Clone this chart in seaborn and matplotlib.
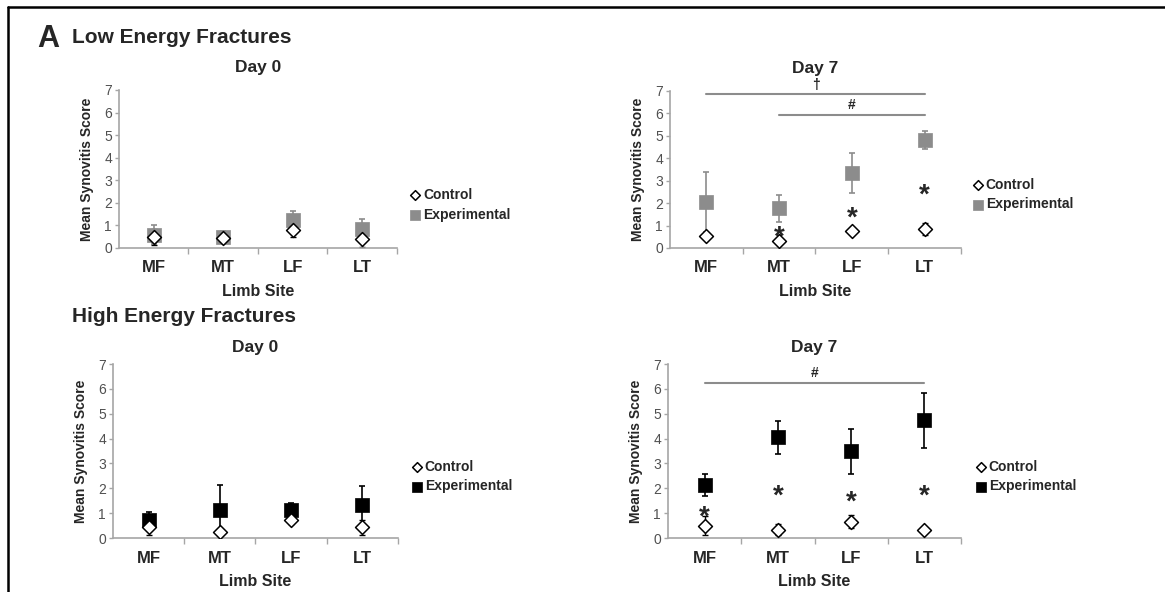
"""Synovitis score by limb site: low vs high energy fractures, day 0 and day 7."""

import matplotlib
matplotlib.use("Agg")
import matplotlib.pyplot as plt
import numpy as np
import pandas as pd
import seaborn as sns

SITES = ["MF", "MT", "LF", "LT"]

# Low energy, day 0
low_d0_ctrl = [0.50, 0.45, 0.81, 0.41]
low_d0_ctrl_err = [0.35, 0.20, 0.34, 0.35]
low_d0_exp = [0.59, 0.49, 1.22, 0.84]
low_d0_exp_err = [0.43, 0.28, 0.42, 0.45]

# Low energy, day 7
low_d7_ctrl = [0.52, 0.30, 0.77, 0.84]
low_d7_ctrl_err = [0.08, 0.08, 0.10, 0.27]
low_d7_exp = [2.04, 1.78, 3.33, 4.81]
low_d7_exp_err = [1.33, 0.60, 0.90, 0.40]

# High energy, day 0
high_d0_ctrl = [0.44, 0.23, 0.71, 0.44]
high_d0_ctrl_err = [0.32, 0.15, 0.15, 0.30]
high_d0_exp = [0.71, 1.14, 1.14, 1.33]
high_d0_exp_err = [0.35, 1.00, 0.27, 0.77]

# High energy, day 7
high_d7_ctrl = [0.50, 0.34, 0.66, 0.34]
high_d7_ctrl_err = [0.37, 0.22, 0.26, 0.10]
high_d7_exp = [2.13, 4.05, 3.49, 4.73]
high_d7_exp_err = [0.43, 0.66, 0.90, 1.12]

# significance marks
low_d7_star_sites = ["MT", "LF", "LT"]
low_d7_star_y = [0.81, 1.70, 2.69]
high_d7_star_sites = ["MF", "MT", "LF", "LT"]
high_d7_star_y = [1.17, 2.01, 1.74, 2.01]
# (symbol, from site, to site, line y)
low_d7_brackets = [("\u2020", "MF", "LT", 6.85), ("#", "MT", "LT", 5.92)]
high_d7_brackets = [("#", "MF", "LT", 6.23)]

GRAY = "#8c8c8c"
SPINE = "#a6a6a6"

sns.set_style("white")
plt.rcParams["font.family"] = ["Liberation Sans", "DejaVu Sans"]


def make_frame(ctrl, ctrl_err, exp, exp_err):
    rows = []
    for s, m, e in zip(SITES, ctrl, ctrl_err):
        rows.append({"site": s, "group": "Control", "mean": m, "err": e})
    for s, m, e in zip(SITES, exp, exp_err):
        rows.append({"site": s, "group": "Experimental", "mean": m, "err": e})
    return pd.DataFrame(rows)


def draw_panel(ax, df, exp_color, title, title_pad, legend_xy,
               stars=None, brackets=None):
    pos = {s: i for i, s in enumerate(SITES)}
    exp = df[df["group"] == "Experimental"]
    ctrl = df[df["group"] == "Control"]
    xe = [pos[s] for s in exp["site"]]
    xc = [pos[s] for s in ctrl["site"]]

    ax.errorbar(xe, exp["mean"], yerr=exp["err"], fmt="none",
                ecolor=exp_color, elinewidth=1.2, capsize=2.5, capthick=1.2,
                zorder=2)
    ax.errorbar(xc, ctrl["mean"], yerr=ctrl["err"], fmt="none",
                ecolor="black", elinewidth=1.0, capsize=2.5, capthick=1.0,
                zorder=2)
    sns.scatterplot(x=xe, y=exp["mean"].values, ax=ax, marker="s", s=100,
                    color=exp_color, edgecolor=exp_color, linewidth=0.5,
                    label="Experimental", zorder=3)
    sns.scatterplot(x=xc, y=ctrl["mean"].values, ax=ax, marker="D", s=50,
                    color="white", edgecolor="black", linewidth=1.1,
                    label="Control", zorder=4)

    if stars is not None:
        for s, y in zip(*stars):
            ax.annotate("*", (pos[s], y), xytext=(0, -11),
                        textcoords="offset points", ha="center",
                        va="baseline", fontsize=20, fontweight="bold")
    if brackets is not None:
        for sym, a, b, y in brackets:
            ax.plot([pos[a], pos[b]], [y, y], color=GRAY, lw=1.5,
                    clip_on=False)
            ax.annotate(sym, ((pos[a] + pos[b]) / 2, y), xytext=(0, 2),
                        textcoords="offset points", ha="center",
                        va="bottom", fontsize=10, fontweight="bold")

    ax.set_xlim(-0.5, 3.5)
    ax.set_ylim(0, 7)
    ax.set_xticks(range(4))
    ax.set_xticklabels(SITES, fontsize=12, fontweight="bold")
    ax.set_xticks([0.5, 1.5, 2.5, 3.5], minor=True)
    ax.tick_params(axis="x", which="major", length=0, pad=9)
    ax.tick_params(axis="x", which="minor", length=4, width=1,
                   color=SPINE, direction="out", bottom=True)
    ax.set_yticks(range(8))
    ax.tick_params(axis="y", length=3, width=1, color=SPINE,
                   direction="out", left=True, labelsize=10,
                   labelcolor="#505050", pad=2)
    for side in ("top", "right"):
        ax.spines[side].set_visible(False)
    for side in ("left", "bottom"):
        ax.spines[side].set_color(SPINE)
        ax.spines[side].set_linewidth(1.2)

    ax.set_xlabel("Limb Site", fontsize=11.5, fontweight="bold", labelpad=6)
    ax.set_ylabel("Mean Synovitis Score", fontsize=10, fontweight="bold",
                  labelpad=7)
    ax.set_title(title, fontsize=12.5, fontweight="bold", pad=title_pad)

    handles, labels = ax.get_legend_handles_labels()
    order = [labels.index("Control"), labels.index("Experimental")]
    ax.legend([handles[i] for i in order], [labels[i] for i in order],
              loc="center left", bbox_to_anchor=legend_xy,
              bbox_transform=ax.figure.transFigure, frameon=False,
              handlelength=0.6, handletextpad=0.25, labelspacing=0.4,
              borderpad=0, markerscale=0.7,
              prop={"weight": "bold", "size": 10})


fig = plt.figure(figsize=(11.65, 5.92), dpi=100)

ax1 = fig.add_axes([0.1021, 0.5811, 0.2386, 0.2669])
ax2 = fig.add_axes([0.5751, 0.5811, 0.2498, 0.2652])
ax3 = fig.add_axes([0.0970, 0.0912, 0.2446, 0.2939])
ax4 = fig.add_axes([0.5734, 0.0912, 0.2515, 0.2939])

draw_panel(ax1, make_frame(low_d0_ctrl, low_d0_ctrl_err, low_d0_exp, low_d0_exp_err),
           GRAY, "Day 0", 13, (0.347, 0.654))
draw_panel(ax2, make_frame(low_d7_ctrl, low_d7_ctrl_err, low_d7_exp, low_d7_exp_err),
           GRAY, "Day 7", 13, (0.830, 0.6715),
           stars=(low_d7_star_sites, low_d7_star_y), brackets=low_d7_brackets)
draw_panel(ax3, make_frame(high_d0_ctrl, high_d0_ctrl_err, high_d0_exp, high_d0_exp_err),
           "black", "Day 0", 9, (0.3485, 0.1951))
draw_panel(ax4, make_frame(high_d7_ctrl, high_d7_ctrl_err, high_d7_exp, high_d7_exp_err),
           "black", "Day 7", 9, (0.8327, 0.1951),
           stars=(high_d7_star_sites, high_d7_star_y), brackets=high_d7_brackets)

# panel headings
fig.text(37 / 1165, 1 - 47 / 592, "A", fontsize=22, fontweight="bold",
         va="baseline")
fig.text(72 / 1165, 1 - 43 / 592, "Low Energy Fractures", fontsize=15,
         fontweight="bold", va="baseline")
fig.text(72 / 1165, 1 - 322 / 592, "High Energy Fractures", fontsize=15,
         fontweight="bold", va="baseline")

# partial frame (top and left edges)
fig.add_artist(plt.Line2D([8 / 1165, 1], [1 - 7 / 592, 1 - 7 / 592],
                          transform=fig.transFigure, color="black", lw=1.8))
fig.add_artist(plt.Line2D([8 / 1165, 8 / 1165], [0, 1 - 7 / 592],
                          transform=fig.transFigure, color="black", lw=1.8))

fig.savefig("out.png", dpi=100)
